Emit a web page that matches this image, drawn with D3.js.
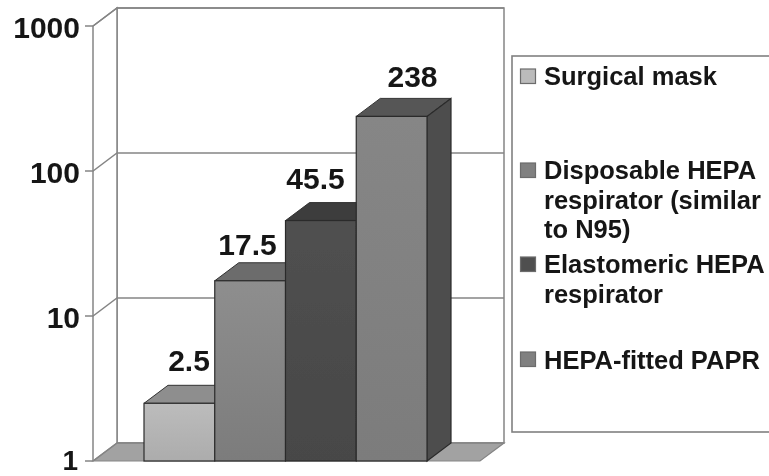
<!DOCTYPE html>
<html><head><meta charset="utf-8">
<script src="https://cdn.jsdelivr.net/npm/d3@7/dist/d3.min.js"></script>
<style>html,body{margin:0;padding:0;background:#fff}svg{display:block}text{font-family:"Liberation Sans",Arial,sans-serif;font-weight:bold;fill:#151515}</style>
</head><body><svg id="c" width="769" height="476"></svg>
<script>
const categories = ["Surgical mask","Disposable HEPA respirator (similar to N95)","Elastomeric HEPA respirator","HEPA-fitted PAPR"];
const values = [2.5,17.5,45.5,238];
const valueLabels = ["2.5","17.5","45.5","238"];
const tickValues = [1,10,100,1000];
const legendLines = [["Surgical mask"],["Disposable HEPA","respirator (similar","to N95)"],["Elastomeric HEPA","respirator"],["HEPA-fitted PAPR"]];
const frontTop = ["#bcbcbc","#8e8e8e","#505050","#868686"];
const frontBottom = ["#acacac","#7c7c7c","#474747","#7c7c7c"];
const topFill = ["#8e8e8e","#6c6c6c","#3c3c3c","#565656"];
const swatchFill = ["#bbbbbb","#808080","#505050","#808080"];

const W=769,H=476;
const svg=d3.select("#c");
const defs=svg.append("defs");
defs.append("filter").attr("id","soft").attr("x","-5%").attr("y","-5%").attr("width","110%").attr("height","110%")
  .append("feGaussianBlur").attr("stdDeviation",0.55);
defs.append("filter").attr("id","softT").append("feGaussianBlur").attr("stdDeviation",0.4);
frontTop.forEach((c,i)=>{
  const lg=defs.append("linearGradient").attr("id","bar"+i).attr("x1",0).attr("y1",0).attr("x2",0).attr("y2",1);
  lg.append("stop").attr("offset",0).attr("stop-color",c);
  lg.append("stop").attr("offset",1).attr("stop-color",frontBottom[i]);
});

const dx=24,dy=-18;
const y=d3.scaleLog().domain([1,1000]).range([461,26]);
const x=d3.scaleBand().domain(categories).range([144,427]).paddingInner(0).paddingOuter(0);
const floorX=[93,480];
const line="#858585";
const g=svg.append("g").attr("filter","url(#soft)");

g.append("rect").attr("x",floorX[0]+dx).attr("y",y(1000)+dy).attr("width",floorX[1]-floorX[0]).attr("height",y(1)-y(1000))
  .attr("fill","#fff").attr("stroke",line).attr("stroke-width",1.5);
g.append("path").attr("d",d3.line()([[floorX[0],y(1)],[floorX[0],y(1000)],[floorX[0]+dx,y(1000)+dy],[floorX[0]+dx,y(1)+dy]]))
  .attr("fill","#fff").attr("stroke",line).attr("stroke-width",1.5);
g.append("path").attr("d",d3.line()([[floorX[0],y(1)],[floorX[1],y(1)],[floorX[1]+dx,y(1)+dy],[floorX[0]+dx,y(1)+dy]])+"Z")
  .attr("fill","#a2a2a2").attr("stroke",line).attr("stroke-width",1.2);
tickValues.forEach(t=>{
  const Y=y(t);
  g.append("path").attr("d",d3.line()([[85,Y],[floorX[0],Y],[floorX[0]+dx,Y+dy],[floorX[1]+dx,Y+dy]]))
    .attr("fill","none").attr("stroke",line).attr("stroke-width",1.4);
});
const bars=g.selectAll("g.bar").data(values).enter().append("g").attr("class","bar");
const bw=x.bandwidth();
bars.append("path").attr("d",(d,i)=>{const X=x(categories[i]),T=y(d);
  return d3.line()([[X,T],[X+bw,T],[X+bw+dx,T+dy],[X+dx,T+dy]])+"Z";})
  .attr("fill",(d,i)=>topFill[i]).attr("stroke","#333").attr("stroke-width",1);
bars.filter((d,i)=>i===3).append("path").attr("d",(d)=>{const X=x(categories[3]),T=y(d);
  return d3.line()([[X+bw,T],[X+bw+dx,T+dy],[X+bw+dx,y(1)+dy],[X+bw,y(1)]])+"Z";})
  .attr("fill","#4e4e4e").attr("stroke","#2a2a2a").attr("stroke-width",1.2);
bars.append("rect").attr("x",(d,i)=>x(categories[i])).attr("y",d=>y(d)).attr("width",bw).attr("height",d=>y(1)-y(d))
  .attr("fill",(d,i)=>`url(#bar${i})`).attr("stroke","#2c2c2c").attr("stroke-width",1.2);
g.append("rect").attr("x",512).attr("y",56).attr("width",W-512+6).attr("height",376)
  .attr("fill","none").attr("stroke","#808080").attr("stroke-width",1.6);
const swatchTop=[69,163,257,352];
swatchFill.forEach((c,i)=>{
  g.append("rect").attr("x",520.5).attr("y",swatchTop[i]).attr("width",15).attr("height",14.5)
   .attr("fill",c).attr("stroke","#6c6c6c").attr("stroke-width",1.2);
});
const t=svg.append("g").attr("filter","url(#softT)");
tickValues.forEach(v=>{
  t.append("text").attr("x",v===1?78:80).attr("y",v===1?470:y(v)+11.5).attr("text-anchor","end").attr("font-size",v===1?28:30).text(v);
});
const labelX=[189,247.5,315.5,412.5], labelY=[371,255,188.5,86.5];
values.forEach((d,i)=>{
  t.append("text").attr("x",labelX[i]).attr("y",labelY[i]).attr("text-anchor","middle").attr("font-size",30).text(valueLabels[i]);
});
const legendBase=[[85],[179,209,238],[273,303],[369]];
legendLines.forEach((ls,i)=>{
  ls.forEach((s,j)=>{
    t.append("text").attr("x",544).attr("y",legendBase[i][j]).attr("font-size",25.5).text(s);
  });
});
</script></body></html>
